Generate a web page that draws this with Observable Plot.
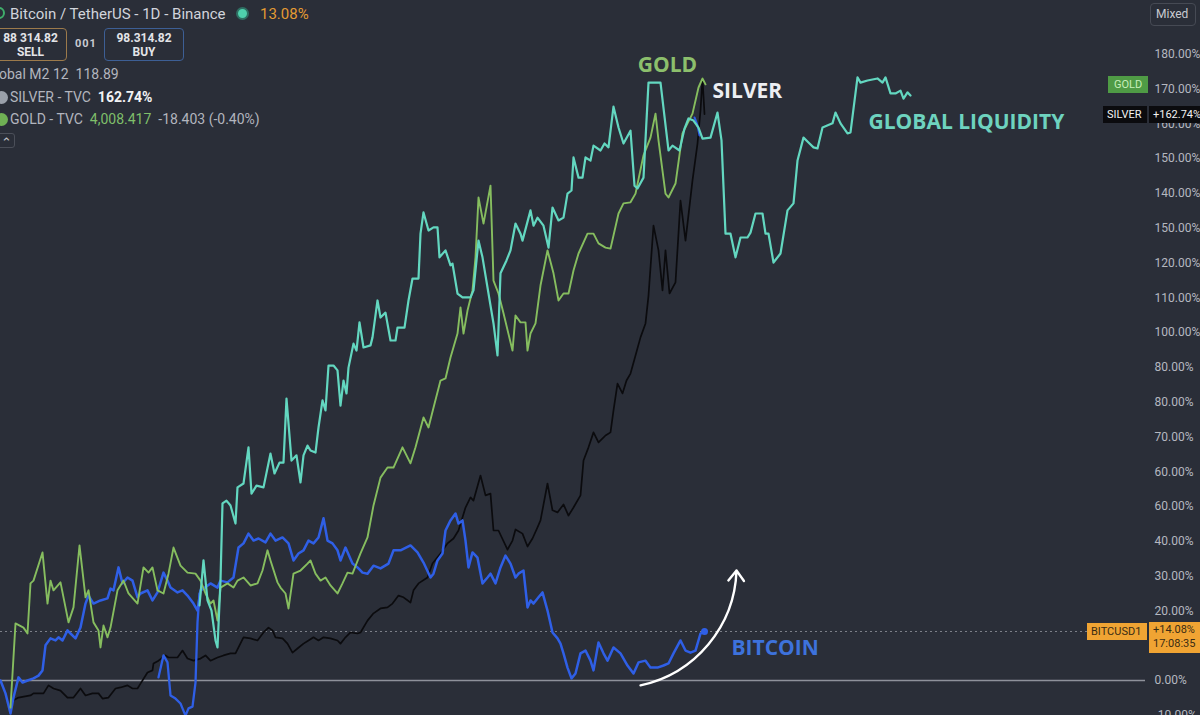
<!DOCTYPE html>
<html>
<head>
<meta charset="utf-8">
<script src="https://cdn.jsdelivr.net/npm/d3@7"></script>
<script src="https://cdn.jsdelivr.net/npm/@observablehq/plot@0.6"></script>
<style>
  html, body { margin: 0; padding: 0; background: #2a2e38; overflow: hidden; }
  #wrap { position: relative; width: 1200px; height: 715px; overflow: hidden; font-family: Roboto, "Noto Sans", sans-serif; }
  #wrap svg { position: absolute; left: 0; top: 0; }
  .ov { position: absolute; white-space: nowrap; }
  .leg { font-size: 14px; color: #b2b5be; }
  .box { position: absolute; box-sizing: border-box; border-radius: 4px; text-align: center; font-size: 12px; font-weight: 700; color: #e3e4e8; line-height: 14px; padding-top: 2px; }
  .tag { position: absolute; box-sizing: border-box; font-size: 11px; line-height: 17px; height: 17px; padding: 0 4px; white-space: nowrap; overflow: hidden; }
</style>
</head>
<body>
<div id="wrap"></div>
<script>
// ---------- data (bar index, % change) ----------
// right-axis ticks as printed on the chart (the 10% tick sits under the BITCUSD1 price tag and is not visible)
const tickValues = [180, 170, 160, 150, 140, 130, 120, 110, 100, 90, 80, 70, 60, 50, 40, 30, 20, 0, -10];
const tickLabels = ["180.00%", "170.00%", "160.00%", "150.00%", "140.00%", "150.00%", "120.00%", "110.00%", "100.00%", "80.00%", "80.00%", "70.00%", "60.00%", "60.00%", "40.00%", "30.00%", "20.00%", "0.00%", "-10.00%"];

const liquidity = [
  [39.8,21.6],[40.6,34.5],[41.4,23.0],[42.2,20.1],[43.0,11.5],[43.4,9.5],[44.0,28.7],[44.4,50.9],[45.2,51.7],[46.0,50.3],
  [47.0,45.1],[47.4,55.5],[48.6,56.6],[49.6,67.0],[50.2,53.7],[51.2,56.0],[52.6,55.5],[54.0,65.2],[54.8,59.5],[55.8,62.6],
  [56.6,62.6],[57.2,81.0],[58.2,63.2],[59.2,64.7],[60.0,56.9],[60.6,64.7],[61.4,67.5],[62.0,66.1],[63.0,65.5],[63.6,72.7],
  [64.4,80.5],[65.0,77.6],[65.6,90.5],[66.6,90.5],[67.4,89.1],[68.0,79.0],[68.6,86.2],[69.2,82.5],[69.6,89.9],[70.6,96.8],
  [71.2,94.8],[71.8,102.9],[72.6,95.7],[74.0,96.3],[74.4,98.6],[75.4,109.2],[76.0,104.3],[77.0,105.7],[78.0,97.7],[79.0,97.7],
  [79.4,101.4],[80.8,101.4],[81.6,109.2],[82.4,115.5],[83.6,115.5],[84.0,128.4],[84.6,134.5],[85.6,129.3],[86.6,130.2],[87.4,130.2],
  [87.8,121.6],[89.0,123.6],[90.0,119.3],[90.4,119.8],[91.4,111.2],[92.4,110.1],[94.0,110.1],[94.6,112.1],[95.6,126.4],[96.4,121.6],
  [97.6,111.2],[98.6,102.6],[99.4,93.4],[100.0,117.0],[101.2,120.7],[102.0,123.6],[103.0,131.3],[104.0,128.4],[104.4,126.4],[106.0,135.1],
  [106.6,130.7],[107.4,133.0],[108.6,130.7],[109.6,124.4],[110.4,135.9],[111.6,132.2],[112.6,133.0],[113.4,139.9],[114.2,140.8],[114.6,150.3],
  [115.6,144.5],[116.4,144.5],[117.0,150.3],[118.0,149.4],[118.6,153.7],[120.0,152.3],[120.8,154.3],[121.6,153.2],[122.6,164.9],[123.6,158.9],
  [124.6,154.3],[126.0,158.0],[126.8,142.2],[127.4,141.4],[128.6,144.5],[129.6,171.8],[132.0,171.8],[133.6,152.3],[134.4,153.7],[135.8,152.3],
  [136.8,158.6],[137.6,161.5],[138.6,160.9],[139.6,158.9],[140.4,155.7],[142.0,156.0],[143.4,163.2],[144.2,155.2],[145.0,128.4],[146.0,128.4],
  [147.0,121.6],[148.0,127.3],[149.4,127.3],[150.0,128.7],[151.0,134.2],[152.4,134.2],[153.0,128.4],[153.6,128.4],[154.6,120.1],[156.0,122.7],
  [157.4,135.1],[158.6,137.1],[159.4,149.4],[160.6,156.0],[161.6,154.6],[162.6,153.2],[163.4,152.9],[164.4,158.9],[166.4,160.1],[167.0,163.2],
  [168.0,160.1],[169.4,157.2],[170.0,157.5],[171.4,173.3],[172.0,171.8],[173.4,172.4],[175.4,173.0],[176.4,171.8],[177.0,173.3],[178.0,168.7],
  [179.0,168.7],[180.0,169.5],[180.6,167.2],[181.4,169.0],[182.0,168.1]
];

const gold = [
  [2.0,-7.8],[3.0,16.4],[4.6,15.2],[5.4,13.5],[6.0,27.9],[6.6,28.7],[8.4,36.8],[9.4,22.1],[10.0,28.7],[10.6,25.9],
  [12.0,28.2],[13.6,16.7],[14.6,21.0],[15.8,38.8],[17.0,23.9],[17.6,25.9],[18.6,16.7],[19.6,14.4],[20.0,9.5],[20.6,15.8],
  [21.4,12.4],[22.0,15.2],[23.4,25.9],[24.6,28.7],[25.6,25.0],[27.4,22.1],[28.6,32.5],[29.6,31.0],[30.4,32.5],[31.4,25.9],
  [32.6,25.0],[33.6,30.7],[34.6,38.2],[36.0,33.0],[37.4,31.0],[39.0,30.7],[40.0,28.7],[41.0,25.0],[42.0,22.1],[42.6,23.0],
  [43.4,17.2],[44.0,26.7],[45.4,27.9],[46.6,26.7],[47.4,28.7],[48.6,29.6],[50.0,27.3],[51.4,27.9],[52.4,31.6],[53.4,37.4],
  [54.0,34.5],[55.4,28.2],[56.0,26.7],[57.0,25.0],[57.6,20.7],[58.6,30.7],[60.0,31.6],[61.4,33.6],[62.0,34.5],[63.0,30.7],
  [64.0,28.7],[65.0,29.6],[66.0,27.3],[67.4,25.0],[68.4,27.9],[69.4,31.0],[70.4,30.7],[72.0,36.5],[73.4,41.1],[74.6,50.3],
  [76.0,58.3],[77.4,61.2],[78.6,61.2],[80.4,67.0],[82.0,62.4],[83.0,67.0],[84.6,75.6],[85.6,72.7],[86.6,78.4],[88.0,86.2],
  [89.0,86.8],[90.0,92.8],[91.4,99.7],[92.0,107.2],[92.6,99.7],[93.4,106.3],[94.4,112.1],[95.0,121.6],[95.6,138.8],[96.6,131.3],
  [98.0,142.2],[98.6,114.9],[99.6,111.2],[100.6,105.5],[102.4,94.8],[103.0,104.9],[104.0,102.9],[105.0,102.9],[105.4,94.8],[106.0,99.7],
  [107.0,102.6],[108.0,113.5],[109.4,123.6],[110.6,117.0],[111.6,109.2],[112.6,111.2],[113.6,111.2],[114.6,117.8],[115.6,122.7],[117.4,128.4],
  [118.6,128.4],[119.6,125.6],[121.0,124.4],[122.0,124.1],[123.6,134.2],[124.6,137.1],[126.0,137.4],[127.0,139.9],[128.6,150.9],[130.0,156.0],
  [131.0,162.9],[131.6,155.2],[133.0,139.9],[133.6,138.8],[135.0,142.8],[136.4,157.2],[137.4,160.1],[138.4,162.9],[139.6,170.4],[140.4,173.0],
  [141.0,171.3]
];

const silver = [
  [2.0,-7.8],[2.6,-5.7],[3.6,-4.9],[6.0,-4.3],[6.6,-3.7],[8.6,-3.7],[9.6,-1.4],[10.6,-2.3],[12.0,-2.9],[13.4,-4.9],
  [14.6,-4.9],[16.0,-2.3],[17.0,-4.3],[18.4,-3.7],[19.6,-3.7],[20.4,-5.2],[21.6,-4.9],[23.0,-2.3],[24.0,-2.0],[25.4,-1.4],
  [26.4,-2.3],[27.4,-2.3],[28.0,-0.9],[29.4,2.3],[30.4,2.9],[30.6,4.9],[31.6,5.7],[33.0,7.2],[33.6,6.6],[35.4,6.6],
  [36.4,8.6],[37.4,6.3],[38.6,5.7],[40.0,6.3],[41.0,7.2],[42.0,5.7],[43.4,6.6],[44.6,7.2],[46.0,7.8],[47.0,7.8],
  [48.6,12.4],[50.0,12.1],[51.4,11.5],[52.6,13.8],[53.6,15.2],[54.4,14.4],[55.0,12.4],[56.4,12.1],[57.4,10.6],[58.4,8.0],
  [59.4,9.2],[60.6,10.6],[61.6,11.5],[62.6,12.4],[63.6,11.5],[64.6,12.4],[66.0,12.1],[67.4,11.5],[68.0,10.6],[69.0,12.4],
  [70.0,13.8],[71.4,13.5],[72.0,13.8],[73.4,17.2],[74.6,19.3],[76.0,20.7],[77.4,21.0],[78.4,22.1],[79.6,24.4],[80.6,23.9],
  [82.0,22.4],[82.6,25.9],[83.6,27.9],[85.4,29.6],[86.4,33.6],[88.0,36.5],[89.4,39.4],[90.6,40.8],[91.6,43.1],[93.0,49.7],
  [94.0,52.6],[94.6,51.7],[96.0,58.9],[97.0,53.2],[98.0,53.7],[98.6,43.1],[99.6,43.1],[101.4,37.6],[102.4,40.2],[103.0,43.4],
  [104.4,42.2],[105.4,38.5],[106.4,40.8],[107.4,44.0],[108.0,46.0],[109.4,56.6],[110.4,48.9],[111.4,48.3],[112.6,50.6],[113.6,47.4],
  [114.6,49.7],[116.0,53.2],[116.6,63.2],[117.6,67.0],[118.6,71.3],[119.6,68.4],[121.0,70.4],[122.0,71.3],[122.6,77.6],[123.4,85.3],
  [124.4,82.5],[125.2,86.2],[126.0,88.2],[127.0,93.4],[128.0,98.6],[129.0,102.6],[129.6,110.6],[130.6,130.7],[131.6,123.6],[132.4,112.1],
  [133.0,123.6],[133.8,111.2],[135.0,114.4],[136.0,137.9],[137.0,126.4],[138.4,143.7],[139.4,154.3],[140.0,163.8],[140.4,173.0],[140.8,162.74]
];

const bitcoin = [
  [0,0],[1.0,-3.7],[2.0,-9.5],[2.6,-4.9],[3.6,0.9],[4.4,-0.6],[5.4,0],[6.6,0.6],[7.6,1.4],[8.4,2.9],
  [9.0,10.1],[10.0,12.1],[11.0,11.5],[11.6,12.4],[12.4,11.5],[13.4,14.4],[14.0,13.5],[15.0,12.1],[16.0,15.2],[17.0,22.1],
  [17.6,24.4],[18.6,22.1],[20.0,23.0],[21.4,23.6],[22.0,26.4],[22.6,25.9],[23.6,32.5],[24.4,27.9],[25.4,29.6],[26.4,28.7],
  [27.4,23.9],[28.0,25.0],[29.4,25.9],[30.4,23.0],[31.4,25.3],[32.6,31.0],[33.4,28.7],[34.0,26.7],[35.4,25.3],[36.4,25.9],
  [37.4,24.4],[38.6,22.1],[39.4,20.1],[40.0,25.9],[40.6,26.4],[42.0,27.9],[43.4,26.7],[44.0,28.7],[45.4,28.2],[46.6,29.6],
  [47.6,38.2],[48.6,39.4],[49.6,42.2],[50.6,40.2],[51.6,40.8],[53.0,39.7],[54.0,42.2],[55.0,40.2],[56.4,41.1],[57.6,39.4],
  [58.6,34.5],[59.6,36.5],[60.6,37.4],[61.6,40.2],[62.6,39.4],[63.6,41.1],[64.6,46.6],[65.4,40.2],[66.4,39.4],[67.4,37.4],
  [68.0,34.5],[69.0,38.2],[70.4,33.6],[71.4,32.5],[72.4,31.0],[73.4,30.7],[74.6,33.0],[76.0,32.2],[77.6,33.6],[78.6,37.4],
  [80.0,37.4],[82.0,38.8],[83.4,36.8],[84.6,33.9],[86.0,29.6],[86.6,30.7],[87.4,34.5],[88.4,36.5],[89.0,43.1],[90.0,46.0],
  [91.0,48.0],[91.6,45.1],[92.4,46.0],[93.0,40.2],[93.6,32.5],[94.4,36.8],[95.4,35.3],[96.4,27.9],[97.4,29.6],[98.0,30.7],
  [99.0,27.9],[100.0,32.5],[101.0,35.9],[102.0,33.6],[103.0,29.6],[103.6,30.7],[104.6,31.6],[105.4,21.0],[106.0,23.0],[106.6,22.1],
  [107.6,23.9],[108.4,25.3],[109.4,20.1],[110.4,13.8],[111.4,12.1],[112.0,10.6],[112.6,7.8],[113.4,3.7],[114.2,0.6],[115.0,2.0],
  [116.0,7.8],[117.0,8.6],[118.0,5.7],[118.6,2.9],[119.6,10.9],[120.6,7.8],[121.4,5.7],[122.6,9.5],[124.0,7.8],[125.4,4.3],
  [126.6,2.0],[127.6,5.2],[129.0,5.7],[130.0,3.7],[131.4,3.7],[132.6,4.3],[133.6,4.9],[134.6,7.8],[136.0,11.5],[137.0,8.6],
  [138.0,8.0],[139.0,8.6],[140.0,13.5],[140.8,14.08]
];

const bitcoinDip = [
  [31.6,0.9],[32.6,7.2],[33.4,5.2],[34.0,-4.3],[35.0,-5.2],[36.0,-6.6],[36.4,-8.0],[37.0,-10.1],[37.6,-8.0],[38.4,-7.5],
  [39.0,-0.6],[39.4,16.7],[39.8,25.0]
];

const bitcoinTop = [[138.8,161.8],[139.4,159.5],[139.8,156.6]];

const lastBitcoin = 14.08;
const lastSilver = 162.74;
const lastGold = 171.3;

// annotation labels (text, bar index, %)
const annotationTexts = ["GOLD", "SILVER", "GLOBAL LIQUIDITY", "BITCOIN"];
const annotationT = [133.4, 142.4, 173.6, 146.2];
const annotationV = [176.7, 169.3, 160.3, 9.2];

// hand-drawn arrow (from / to, bar index and %)
const trendArrow = [{t1: 128, v1: -1.4, t2: 147.2, v2: 31.6}];

// ---------- build ----------
const pts = arr => arr.map(([t, v]) => ({t, v}));
const colors = {
  liquidity: "#63d7c0",
  gold: "#86bd5f",
  silver: "#0b0b0e",
  bitcoin: "#2f5fe6"
};
const annColors = ["#8cbf6c", "#eceef2", "#6ed3bf", "#3d72dc"];
const annAnchor = ["middle", "start", "start", "start"];

const labelMap = new Map(tickValues.map((v, i) => [v, tickLabels[i]]));
const yDomain = [-10.06, 195.4];

const annMarks = annotationTexts.map((txt, i) =>
  Plot.text([{t: annotationT[i], v: annotationV[i], s: txt}], {
    x: "t", y: "v", text: "s", fill: annColors[i], textAnchor: annAnchor[i],
    fontSize: 21, fontWeight: 700, fontFamily: "Open Sans"
  })
);

const chart = Plot.plot({
  width: 1200,
  height: 715,
  marginLeft: 0,
  marginRight: 55,
  marginTop: 0,
  marginBottom: 0,
  style: {background: "#2a2e38", color: "#b5b8c0", fontFamily: "Roboto, sans-serif", fontSize: "12px"},
  x: {domain: [0, 229], axis: null},
  y: {domain: yDomain, axis: null},
  marks: [
    Plot.ruleY([0], {stroke: "#8e919a", strokeWidth: 1.6}),
    Plot.ruleY([lastBitcoin], {stroke: "#7e818a", strokeWidth: 1, strokeDasharray: "2,3"}),
    Plot.line(pts(silver), {x: "t", y: "v", stroke: colors.silver, strokeWidth: 1.7, strokeLinejoin: "round"}),
    Plot.line(pts(bitcoinDip), {x: "t", y: "v", stroke: colors.bitcoin, strokeWidth: 2.3, strokeLinejoin: "round"}),
    Plot.line(pts(bitcoin), {x: "t", y: "v", stroke: colors.bitcoin, strokeWidth: 2.5, strokeLinejoin: "round"}),
    Plot.line(pts(bitcoinTop), {x: "t", y: "v", stroke: colors.bitcoin, strokeWidth: 2, strokeLinejoin: "round"}),
    Plot.line(pts(gold), {x: "t", y: "v", stroke: colors.gold, strokeWidth: 1.9, strokeLinejoin: "round"}),
    Plot.line(pts(liquidity), {x: "t", y: "v", stroke: colors.liquidity, strokeWidth: 2.2, strokeLinejoin: "round"}),
    Plot.dot(pts(bitcoin.slice(-1)), {x: "t", y: "v", r: 3.5, fill: colors.bitcoin}),
    Plot.arrow(trendArrow, {x1: "t1", y1: "v1", x2: "t2", y2: "v2", bend: -38, stroke: "#ffffff", strokeWidth: 2.4, headLength: 8, headAngle: 75}),
    ...annMarks,
    Plot.axisY(tickValues, {anchor: "right", tickSize: 0, tickPadding: 9, tickFormat: d => labelMap.get(d), label: null, fill: "#b5b8c0", fontSize: 12})
  ]
});

const wrap = document.getElementById("wrap");
wrap.appendChild(chart);

const ys = d3.scaleLinear(yDomain, [715, 0]);

function el(html, style, cls) {
  const d = document.createElement("div");
  d.className = cls || "ov";
  d.innerHTML = html;
  Object.assign(d.style, style);
  wrap.appendChild(d);
  return d;
}

// ---- legend (top-left) ----
el("", {left: "-7px", top: "7px", width: "12px", height: "12px", borderRadius: "50%", border: "2px solid #3fae6b", boxSizing: "border-box"});
el("Bitcoin / TetherUS - 1D - Binance", {left: "10px", top: "5px", fontSize: "15px", color: "#d1d4dc"});
el("", {left: "236px", top: "7px", width: "13px", height: "13px", borderRadius: "50%", background: "#4fd1ad", border: "2px solid #2f6f63", boxSizing: "border-box"});
el("13.08%", {left: "260px", top: "5px", fontSize: "15px", color: "#e49b33"});

el("88 314.82<br>SELL", {left: "-6px", top: "28px", width: "73px", height: "33px", border: "1.5px solid #9c7a4b"}, "box");
el("001", {left: "75px", top: "37px", fontSize: "11px", fontWeight: "700", color: "#c9cbd1", letterSpacing: "1px"});
el("98.314.82<br>BUY", {left: "104px", top: "28px", width: "80px", height: "33px", border: "1.5px solid #3d5f95"}, "box");

el("obal M2 12&nbsp;&nbsp;118.89", {left: "-1px", top: "66px"}, "ov leg");
el("", {left: "-5px", top: "91px", width: "13px", height: "13px", borderRadius: "50%", background: "#9aa0aa"});
el("SILVER - TVC&nbsp;&nbsp;<b style='color:#f2f3f5'>162.74%</b>", {left: "10px", top: "89px"}, "ov leg");
el("", {left: "-5px", top: "113px", width: "13px", height: "13px", borderRadius: "50%", background: "#6fb054"});
el("GOLD - TVC&nbsp;&nbsp;<span style='color:#7fbf6a'>4,008.417</span>&nbsp;&nbsp;-18.403 (-0.40%)", {left: "10px", top: "111px"}, "ov leg");
el("&#8963;", {left: "-3px", top: "133px", width: "18px", height: "15px", border: "1px solid #4b4f59", borderRadius: "3px", color: "#c0c2c8", fontSize: "13px", textAlign: "center", lineHeight: "18px", boxSizing: "border-box"});

// ---- Mixed button ----
el("Mixed", {left: "1150px", top: "3px", width: "46px", height: "23px", border: "1px solid #464a54", borderRadius: "4px", color: "#c8cad0", fontSize: "12px", lineHeight: "21px", paddingLeft: "5px", boxSizing: "border-box"});

// ---- axis tags ----
const yg = ys(lastGold), ysv = ys(lastSilver), yb = ys(lastBitcoin);
el("GOLD", {left: "1108px", top: (yg - 8) + "px", width: "40px", background: "#4f9b45", color: "#c6efb9", textAlign: "center"}, "tag");
el("SILVER", {left: "1103px", top: (ysv - 8) + "px", width: "44px", background: "#0b0b0e", color: "#f2f2f2"}, "tag");
el("+162.74%", {left: "1149px", top: (ysv - 8) + "px", width: "60px", background: "#0b0b0e", color: "#f2f2f2"}, "tag");
el("BITCUSD1", {left: "1087px", top: (yb - 8) + "px", width: "60px", background: "#f0a433", color: "#3a2c14"}, "tag");
el("+14.08%<br>17:08:35", {left: "1149px", top: (yb - 9) + "px", width: "60px", height: "31px", background: "#f0a433", color: "#3a2c14", lineHeight: "14px", paddingTop: "1px"}, "tag");
</script>
</body>
</html>
